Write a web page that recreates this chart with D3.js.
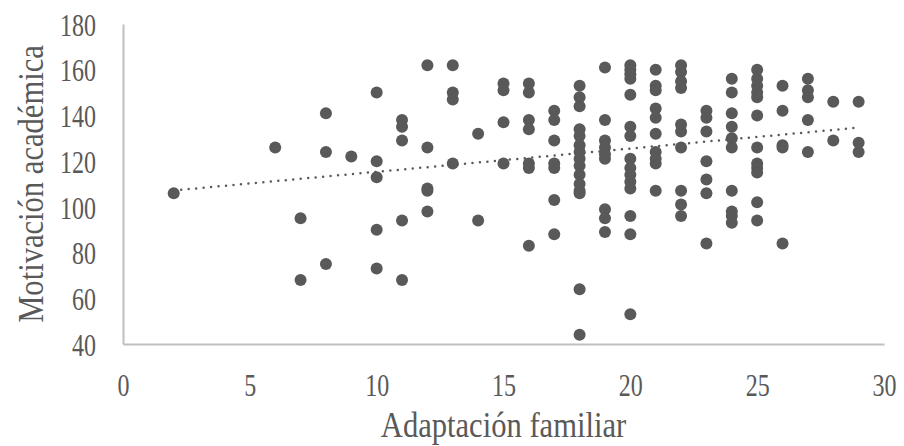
<!DOCTYPE html>
<html>
<head>
<meta charset="utf-8">
<script src="https://cdn.jsdelivr.net/npm/d3@7"></script>
<style>
  html, body { margin: 0; padding: 0; background: #fff; }
  svg text { font-family: "Liberation Serif", "Times New Roman", serif; fill: #595959; }
</style>
</head>
<body>
<div id="chart"></div>
<script>
// adaptación familiar score -> list of motivación académica values at that score
const xValues = [2, 6, 7, 8, 9, 10, 11, 12, 13, 14, 15, 16, 17, 18, 19, 20, 21, 22, 23, 24, 25, 26, 27, 28, 29];
const yGroups = [
  [106],
  [126],
  [95, 68],
  [141, 124, 75],
  [122],
  [150, 120, 113, 90, 73],
  [138, 135, 129, 94, 68],
  [162, 126, 108, 107, 98],
  [162, 150, 147, 119],
  [132, 94],
  [154, 151, 137, 119],
  [154, 150, 138, 134, 119, 117, 83],
  [142, 138, 129, 119, 117, 103, 88],
  [153, 148, 144, 134, 131, 127, 124, 121, 118, 114, 110, 107, 106, 64, 44],
  [161, 138, 129, 126, 123, 121, 99, 95, 89],
  [162, 160, 158, 156, 149, 135, 131, 121, 117, 114, 111, 108, 96, 88, 53],
  [160, 153, 151, 143, 139, 132, 124, 121, 119, 107],
  [162, 159, 155, 152, 136, 133, 126, 107, 101, 96],
  [142, 139, 133, 120, 112, 106, 84],
  [156, 150, 141, 135, 130, 126, 107, 98, 96, 93],
  [160, 156, 153, 150, 148, 140, 126, 119, 117, 115, 102, 94],
  [153, 142, 127, 126, 84],
  [156, 151, 148, 138, 124],
  [146, 129],
  [146, 128, 124]
];
const xTicks = [0, 5, 10, 15, 20, 25, 30];
const yTicks = [40, 60, 80, 100, 120, 140, 160, 180];
const xTitle = "Adaptación familiar";
const yTitle = "Motivación académica";

const data = [];
xValues.forEach((x, i) => yGroups[i].forEach(y => data.push({ x: x, y: y })));

const dimensions = {
  width: 904,
  height: 446,
  marginTop: 24,
  marginRight: 20,
  marginBottom: 102,
  marginLeft: 123
};
dimensions.boundedWidth = dimensions.width - dimensions.marginLeft - dimensions.marginRight;
dimensions.boundedHeight = dimensions.height - dimensions.marginTop - dimensions.marginBottom;

const grey = "#595959";
const axisGrey = "#bfbfbf";
// text in the source is narrow for its height
const tickSize = 32, tickSquash = 0.75;
const titleSize = 36, titleSquash = 0.85;

const wrapper = d3.select("#chart")
  .append("svg")
    .attr("width", dimensions.width)
    .attr("height", dimensions.height);

const bounds = wrapper.append("g")
  .attr("transform", `translate(${dimensions.marginLeft}, ${dimensions.marginTop})`);

// scales
const xScale = d3.scaleLinear()
  .domain([0, 30])
  .range([0, dimensions.boundedWidth]);
const yScale = d3.scaleLinear()
  .domain([40, 180])
  .range([dimensions.boundedHeight, 0]);

// axes, no tick marks, labels only
const xAxis = bounds.append("g")
  .attr("transform", `translate(0, ${dimensions.boundedHeight})`)
  .call(d3.axisBottom(xScale).tickValues(xTicks).tickSize(0));
const yAxis = bounds.append("g")
  .call(d3.axisLeft(yScale).tickValues(yTicks).tickSize(0));

[xAxis, yAxis].forEach(axis => {
  axis.select(".domain").attr("stroke", axisGrey).attr("stroke-width", 2);
  axis.selectAll("text")
    .attr("font-size", tickSize)
    .attr("font-family", "Liberation Serif, Times New Roman, serif")
    .attr("fill", grey)
    .attr("transform", `scale(${tickSquash}, 1)`);
});
xAxis.selectAll("text").attr("y", 41).attr("dy", "0.35em");
yAxis.selectAll("text").attr("x", -27 / tickSquash).attr("dy", "0.35em");

// linear trendline (least squares)
const meanX = d3.mean(data, d => d.x);
const meanY = d3.mean(data, d => d.y);
const slope = d3.sum(data, d => (d.x - meanX) * (d.y - meanY)) / d3.sum(data, d => (d.x - meanX) ** 2);
const intercept = meanY - slope * meanX;
const xExtent = d3.extent(data, d => d.x);
const trend = xExtent.map(x => ({ x: x, y: intercept + slope * x }));

const lineGenerator = d3.line()
  .x(d => xScale(d.x))
  .y(d => yScale(d.y));

// points
bounds.append("g")
  .selectAll("circle")
  .data(data)
  .join("circle")
    .attr("cx", d => xScale(d.x))
    .attr("cy", d => yScale(d.y))
    .attr("r", 6)
    .attr("fill", grey);

bounds.append("path")
  .attr("d", lineGenerator(trend))
  .attr("fill", "none")
  .attr("stroke", grey)
  .attr("stroke-width", 2.5)
  .attr("stroke-linecap", "round")
  .attr("stroke-dasharray", "0 7.5");

// titles
wrapper.append("text")
  .attr("transform", `translate(${dimensions.marginLeft + dimensions.boundedWidth / 2}, 424) scale(${titleSquash}, 1)`)
  .attr("text-anchor", "middle")
  .attr("dy", "0.35em")
  .attr("font-size", titleSize)
  .text(xTitle);

wrapper.append("text")
  .attr("transform", `translate(30, ${dimensions.marginTop + dimensions.boundedHeight / 2}) rotate(-90) scale(${titleSquash}, 1)`)
  .attr("text-anchor", "middle")
  .attr("dy", "0.35em")
  .attr("font-size", titleSize)
  .text(yTitle);
</script>
</body>
</html>
